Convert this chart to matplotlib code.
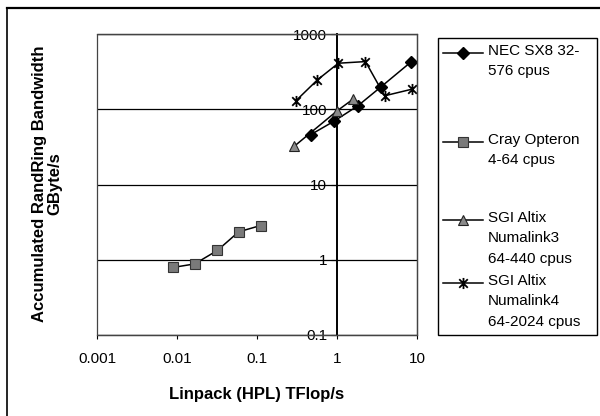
import matplotlib
matplotlib.use("Agg")
import matplotlib.pyplot as plt
from matplotlib.path import Path
from matplotlib.patches import Rectangle
from matplotlib.lines import Line2D

plt.rcParams['font.family'] = ['Liberation Sans', 'DejaVu Sans']

# HPL performance (TFlop/s) vs accumulated RandomRing bandwidth (GByte/s)
nec_x = [0.47, 0.91, 1.82, 3.58, 8.3]
nec_y = [46, 69, 111, 200, 420]
cray_x = [0.0089, 0.0166, 0.032, 0.059, 0.111]
cray_y = [0.79, 0.88, 1.33, 2.35, 2.85]
nl3_x = [0.29, 1.0, 1.6]
nl3_y = [32, 95, 137]
nl4_x = [0.305, 0.57, 1.04, 2.27, 3.94, 8.7]
nl4_y = [129, 246, 409, 430, 151, 185]

labels = ["NEC SX8 32-\n576 cpus",
          "Cray Opteron\n4-64 cpus",
          "SGI Altix\nNumalink3\n64-440 cpus",
          "SGI Altix\nNumalink4\n64-2024 cpus"]
xticks = [0.001, 0.01, 0.1, 1, 10]
yticks = [0.1, 1, 10, 100, 1000]

# Excel-style asterisk: an X with a vertical bar
star = Path([(-1, -1), (1, 1), (-1, 1), (1, -1), (0, -1.3), (0, 1.3)],
            [Path.MOVETO, Path.LINETO, Path.MOVETO, Path.LINETO,
             Path.MOVETO, Path.LINETO])

styles = [
    dict(marker='D', ms=6, mfc='black', mec='black'),
    dict(marker='s', ms=6.5, mfc='#7a7a7a', mec='#333333', mew=0.8),
    dict(marker='^', ms=7, mfc='#8a8a8a', mec='#222222', mew=0.8),
    dict(marker=star, ms=8, mfc='none', mec='black', mew=1.3),
]

W, H = 600, 416
fig = plt.figure(figsize=(6, 4.16), dpi=100)

ax = fig.add_axes([97 / W, 1 - 335 / H, 320 / W, 301 / H])
ax.set_xscale('log')
ax.set_yscale('log')
ax.set_xlim(0.001, 10)
ax.set_ylim(0.1, 1000)

series = [(nec_x, nec_y), (cray_x, cray_y), (nl3_x, nl3_y), (nl4_x, nl4_y)]
for (xs, ys), st in zip(series, styles):
    ax.plot(xs, ys, color='black', lw=1.1, zorder=3, **st)

# value axis crosses at x = 1
ax.spines['left'].set_position(('data', 1))
ax.spines['left'].set_linewidth(1.4)
for s in ['top', 'right', 'bottom']:
    ax.spines[s].set_color('#444444')
    ax.spines[s].set_linewidth(0.9)
ax.add_patch(Rectangle((0, 0), 1, 1, transform=ax.transAxes, fill=False,
                       ec='#444444', lw=0.9, clip_on=False, zorder=4))

ax.set_xticks(xticks)
ax.set_xticklabels(['0.001', '0.01', '0.1', '1', '10'])
ax.set_yticks(yticks)
ax.set_yticklabels(['0.1', '1', '10', '100', '1000'])
ax.minorticks_off()
ax.tick_params(axis='x', direction='out', length=3, pad=9, labelsize=11)
ax.tick_params(axis='y', direction='out', length=4, pad=3, labelsize=11)
ax.grid(axis='y', color='black', lw=0.9)
ax.set_axisbelow(True)

ax.set_xlabel('Linpack (HPL) TFlop/s', fontsize=12, fontweight='bold',
              labelpad=15)
fig.text(47 / W, 1 - 184 / H, 'Accumulated RandRing Bandwidth\nGByte/s',
         rotation=90, ha='center', va='center', fontsize=12,
         fontweight='bold', linespacing=1.0, multialignment='center')

# legend box, laid out in pixel units
lg = fig.add_axes([437 / W, 1 - 335 / H, 160 / W, 298 / H])
lg.set_xlim(437, 597)
lg.set_ylim(335, 37)
lg.axis('off')
lg.add_patch(Rectangle((437.5, 37.5), 159, 297, fill=False, ec='black',
                       lw=1.0, clip_on=False))
rows = [53, 142, 220, 283]
for yc, lab, st in zip(rows, labels, styles):
    lg.add_line(Line2D([443, 483], [yc, yc], color='black', lw=1.1))
    lg.add_line(Line2D([463], [yc], color='black', **st))
    lg.text(488, yc - 9.5, lab, ha='left', va='top', fontsize=11,
            linespacing=1.6)

# outer chart border (top and left edges)
fig.add_artist(Line2D([7 / W, 1], [1 - 8 / H, 1 - 8 / H], color='black',
                      lw=1.6, transform=fig.transFigure))
fig.add_artist(Line2D([7 / W, 7 / W], [0, 1 - 8 / H], color='black',
                      lw=1.2, transform=fig.transFigure))

fig.savefig('out.png', dpi=100)
